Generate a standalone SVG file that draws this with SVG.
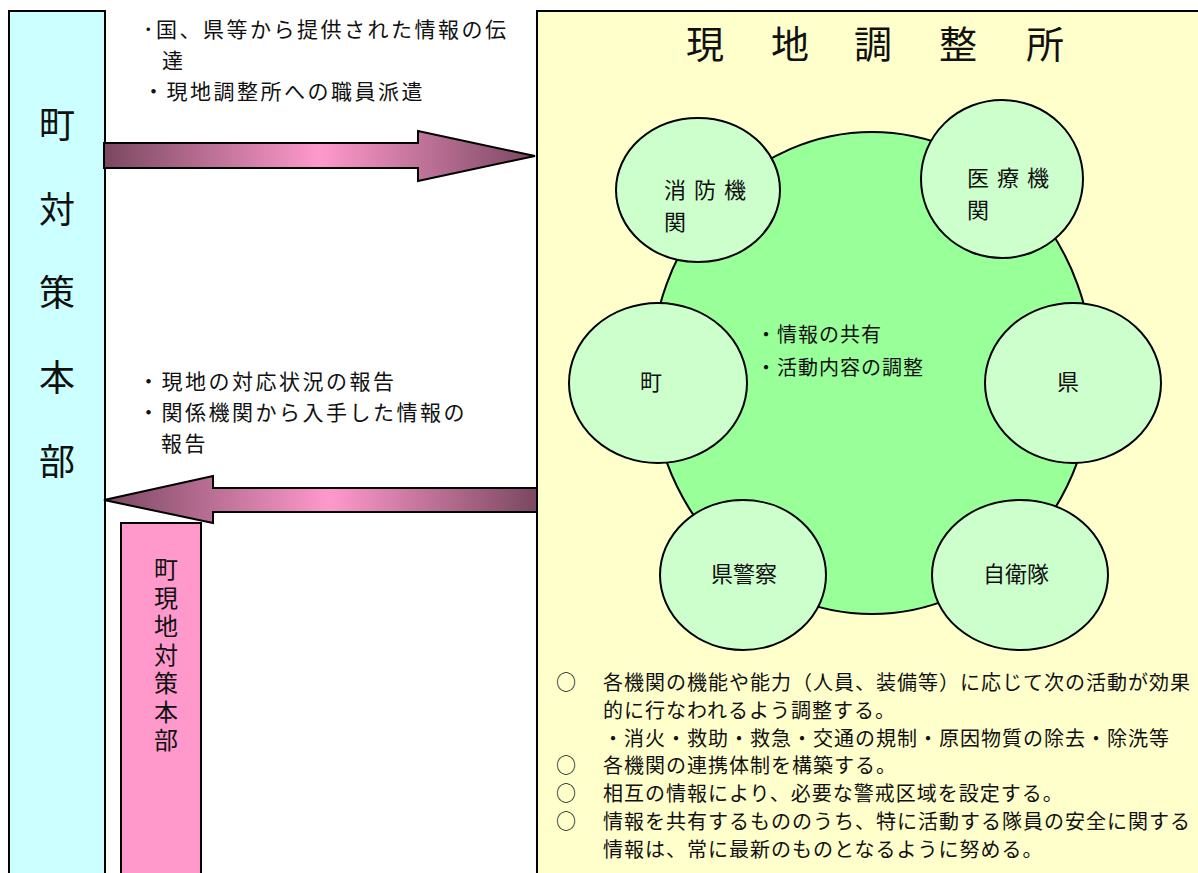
<svg xmlns="http://www.w3.org/2000/svg" width="1198" height="873" viewBox="0 0 1198 873">
<defs>
<linearGradient id="g1" gradientUnits="userSpaceOnUse" x1="104" y1="0" x2="535" y2="0">
<stop offset="0" stop-color="#7A4860"/>
<stop offset="0.5" stop-color="#FF99CC"/>
<stop offset="1" stop-color="#7A4860"/>
</linearGradient>
<linearGradient id="g2" gradientUnits="userSpaceOnUse" x1="104" y1="0" x2="537" y2="0">
<stop offset="0" stop-color="#7A4860"/>
<stop offset="0.52" stop-color="#FF99CC"/>
<stop offset="1" stop-color="#7A4860"/>
</linearGradient>
</defs>
<style>
text{font-family:"Noto Sans CJK JP","Noto Sans CJK SC",sans-serif;fill:#111;}
.box{stroke:#000;stroke-width:2;}
.sm{fill:#CCFFCC;stroke:#000;stroke-width:2;}
.t20{font-size:20px;letter-spacing:1px;}
.t21{font-size:21px;letter-spacing:2.5px;}
.t22{font-size:22px;}
.big{font-size:36px;}
.title{font-size:38px;}
.v24{font-size:24px;letter-spacing:4.5px;writing-mode:vertical-rl;}
</style>
<rect width="1198" height="873" fill="#fff"/>

<g id="hq">
<rect class="box" x="9" y="11" width="96" height="880" fill="#CCFFFF"/>
<text class="big" text-anchor="middle"><tspan x="57" y="138">町</tspan><tspan x="57" y="223">対</tspan><tspan x="57" y="306">策</tspan><tspan x="57" y="391">本</tspan><tspan x="57" y="475">部</tspan></text>
</g>

<g id="site">
<rect class="box" x="537" y="11" width="680" height="880" fill="#FFFFCC"/>
<text class="title" text-anchor="middle"><tspan x="705" y="58">現</tspan><tspan x="790" y="58">地</tspan><tspan x="873" y="58">調</tspan><tspan x="958" y="58">整</tspan><tspan x="1045" y="58">所</tspan></text>
</g>

<g id="local-hq">
<rect class="box" x="121" y="523" width="80" height="370" fill="#FF99CC"/>
<text class="v24" x="166" y="557">町現地対策本部</text>
</g>

<g id="connectors">
<polygon points="104,143 418,143 418,131 535,156 418,181 418,168 104,168" fill="url(#g1)" stroke="#000" stroke-width="2"/>
<polygon points="104,500 213,476 213,488 537,488 537,512 213,512 213,523" fill="url(#g2)" stroke="#000" stroke-width="2"/>
</g>

<g id="label-down">
<text class="t21"><tspan x="143" y="37">･国、県等から提供された情報の伝</tspan><tspan x="162" y="68">達</tspan><tspan x="143" y="99">・現地調整所への職員派遣</tspan></text>
</g>
<g id="label-up">
<text class="t21"><tspan x="138" y="389">・現地の対応状況の報告</tspan><tspan x="138" y="420">・関係機関から入手した情報の</tspan><tspan x="161" y="451">報告</tspan></text>
</g>

<g id="center">
<ellipse cx="872" cy="373" rx="221" ry="241" fill="#99FF99" stroke="#000" stroke-width="2"/>
<text class="t20"><tspan x="756" y="342">・情報の共有</tspan><tspan x="756" y="375">・活動内容の調整</tspan></text>
</g>

<g id="fire">
<ellipse class="sm" cx="698" cy="190" rx="82" ry="72"/>
<text class="t22" letter-spacing="8"><tspan x="664" y="198">消防機</tspan><tspan x="664" y="230">関</tspan></text>
</g>
<g id="medical">
<ellipse class="sm" cx="1002" cy="179" rx="81" ry="79"/>
<text class="t22" letter-spacing="8"><tspan x="967" y="186">医療機</tspan><tspan x="967" y="218">関</tspan></text>
</g>
<g id="town">
<ellipse class="sm" cx="658" cy="383" rx="89" ry="80"/>
<text class="t22" text-anchor="middle" x="651" y="390">町</text>
</g>
<g id="pref">
<ellipse class="sm" cx="1073" cy="383" rx="88" ry="80"/>
<text class="t22" text-anchor="middle" x="1068" y="390">県</text>
</g>
<g id="police">
<ellipse class="sm" cx="743" cy="575" rx="83" ry="75"/>
<text class="t22" text-anchor="middle" x="744" y="582">県警察</text>
</g>
<g id="sdf">
<ellipse class="sm" cx="1020" cy="575" rx="88" ry="75"/>
<text class="t22" text-anchor="middle" x="1016" y="582">自衛隊</text>
</g>

<g id="notes">
<text class="t20"><tspan x="556" y="690">○</tspan><tspan x="556" y="773">○</tspan><tspan x="556" y="801">○</tspan><tspan x="556" y="829">○</tspan></text>
<text class="t20"><tspan x="603" y="690">各機関の機能や能力（人員、装備等）に応じて次の活動が効果</tspan><tspan x="603" y="718">的に行なわれるよう調整する。</tspan><tspan x="603" y="746">・消火・救助・救急・交通の規制・原因物質の除去・除洗等</tspan><tspan x="603" y="773">各機関の連携体制を構築する。</tspan><tspan x="603" y="801">相互の情報により、必要な警戒区域を設定する。</tspan><tspan x="603" y="829">情報を共有するもののうち、特に活動する隊員の安全に関する</tspan><tspan x="603" y="857">情報は、常に最新のものとなるように努める。</tspan></text>
</g>
</svg>
